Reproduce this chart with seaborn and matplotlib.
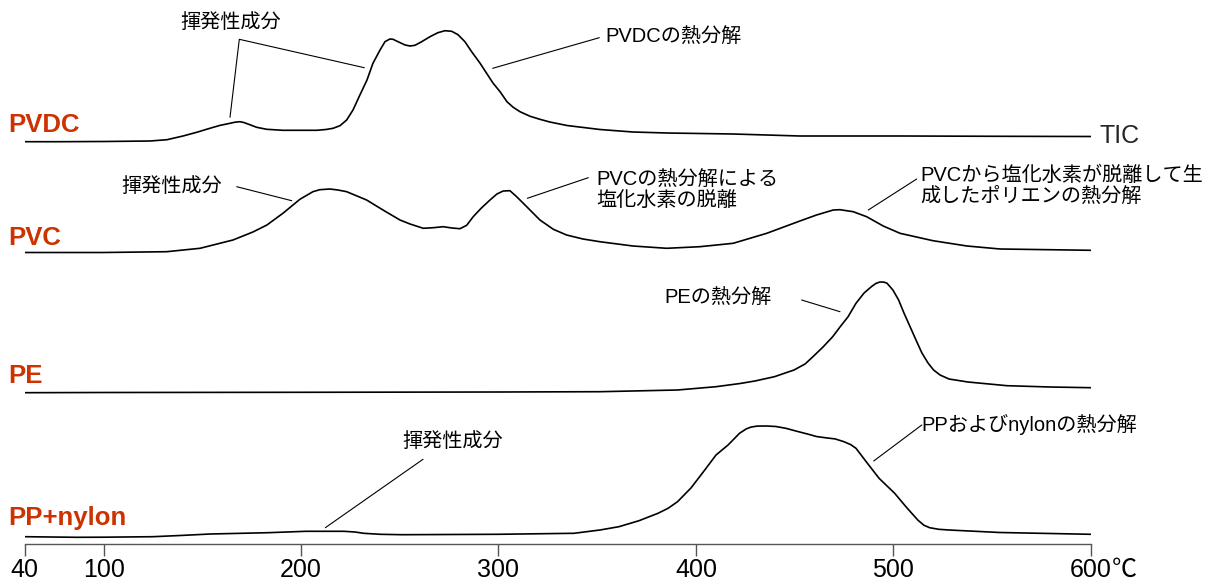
import numpy as np
import pandas as pd
import matplotlib
matplotlib.use("Agg")
import matplotlib.pyplot as plt
from matplotlib.lines import Line2D
import seaborn as sns

# ---------------- data (temperature in degC, relative TIC intensity) ----------------
series_names = ["PVDC", "PVC", "PE", "PP+nylon"]

pvdc_T = [40, 66.8, 100, 123.5, 132.1, 140.2, 147.3, 153.8, 158.9, 164, 166.5, 169, 171,
          173.1, 177.5, 182.6, 190.8, 199.4, 207.9, 212.6, 216.2, 219.7, 223.1, 226.3,
          229.8, 233.4, 236.4, 240, 242.5, 245, 246.6, 249.1, 252.7, 255.2, 257.7, 261.1,
          265.3, 269.3, 272.9, 276.3, 279.5, 283, 286.4, 290.7, 297.2, 300.8, 304.3, 307.4,
          310.9, 315.9, 321, 326, 334.7, 351.4, 368.1, 385.3, 418.8, 452.7, 503.4, 554, 600]
pvdc_I = [0, 0, 0.2, 0.7, 2.0, 5.7, 9.5, 13.4, 16.3, 18.4, 19.5, 20.0, 19.2,
          17.7, 14.4, 12.4, 11.4, 11.4, 11.4, 12.2, 13.4, 16.0, 21.7, 31.7,
          46.7, 61.7, 78.4, 91.7, 100.0, 102.7, 102.4, 100.0, 96.7, 95.7, 96.4, 100.0,
          105.0, 109.0, 111.0, 110.4, 107.0, 100.0, 90.0, 78.4, 58.7, 50.0, 40.0, 34.5,
          30.0, 25.5, 22.4, 19.7, 16.2, 12.2, 9.7, 8.7, 7.7, 5.7, 5.7, 5.4, 5.2]

pvc_T = [40, 100, 131.9, 148.8, 165.5, 175.6, 182.7, 190.8, 199.4, 206, 209.5, 214.6,
         218.7, 223.1, 233.2, 241.5, 250.1, 255.2, 261.9, 267, 272, 276.4, 280.5, 283.9,
         287.2, 291.1, 295.7, 299.2, 302.4, 305.8, 309.2, 314.3, 321, 327.8, 334.5, 342.8,
         351.3, 368.1, 385.2, 402, 418.9, 435.9, 452.7, 461.1, 469.6, 473, 479.7, 486.5,
         494.9, 503.4, 520.1, 537.3, 554.1, 600]
pvc_I = [0, 0, 0.8, 4.2, 12.5, 20.5, 27.5, 39.2, 53.2, 60.8, 62.8, 63.5,
         62.5, 60.8, 52.5, 42.5, 32.5, 28.5, 24.2, 24.8, 25.8, 24.5, 23.8, 27.2,
         35.8, 44.0, 52.5, 58.5, 61.5, 61.8, 55.8, 45.8, 32.5, 23.2, 17.5, 13.5,
         10.8, 6.5, 4.2, 5.8, 9.2, 19.2, 31.5, 37.5, 42.5, 42.8, 40.8, 35.8,
         26.5, 19.2, 11.8, 6.5, 3.5, 2.2]

pe_T = [40, 100, 199.4, 300.8, 351.4, 390.7, 410.2, 422.4, 429.9, 439.8, 449.7, 455.3,
        459.3, 464.4, 469.3, 473, 477.1, 481.1, 485.2, 489.2, 491.3, 493.3, 495.2, 496.8,
        499.8, 502.7, 505.4, 508.5, 511.5, 514.5, 517.6, 520.4, 523.7, 528.2, 537.8, 557.6,
        579.4, 600]
pe_I = [0, 0.2, 0.4, 0.7, 1.0, 2.7, 6.0, 9.2, 11.7, 16.0, 22.7, 28.7,
        36.0, 45.7, 56.0, 65.7, 76.0, 89.4, 99.7, 106.5, 109.4, 110.7, 110.6, 109.5,
        102.7, 92.7, 79.7, 66.0, 52.7, 39.7, 29.7, 22.7, 17.7, 13.7, 10.7, 7.0,
        5.7, 5.0]

pp_T = [40, 79.3, 100, 125, 138.7, 154.1, 183.2, 202.5, 221.7, 227.3, 231.7, 240, 251,
        299.5, 338.2, 351.4, 361, 371.2, 380.8, 386, 390.7, 397.5, 404.5, 410.2, 416.3,
        422.1, 425.5, 427.9, 431, 435.9, 440.5, 445.6, 451, 457.3, 461, 465.4, 470.5, 475,
        478.5, 481.1, 486.9, 492.8, 500.7, 506.4, 510, 512.5, 515.5, 518.4, 523, 528.2,
        554, 600]
pp_I = [0, -0.6, -0.5, 0, 1.2, 2.7, 4.0, 5.4, 5.4, 4.7, 3.4, 2.4, 2.0,
        2.4, 3.4, 6.7, 10.0, 16.0, 23.4, 28.5, 35.0, 48.7, 66.7, 81.7, 91.7,
        103.4, 107.8, 109.6, 110.6, 110.7, 110.2, 108.4, 105.5, 102.3, 100.2, 99.0, 97.8, 95.0,
        92.0, 88.4, 73.4, 58.4, 43.4, 30.0, 22.0, 16.5, 11.5, 9.0, 7.4, 6.7,
        4.2, 2.4]

tick_values = [40, 100, 200, 300, 400, 500, 600]
tick_labels = ["40", "100", "200", "300", "400", "500", "600"]

# ---------------- layout constants ----------------
W, H = 1208, 585
offsets = {"PVDC": 401.8, "PVC": 291.0, "PE": 150.8, "PP+nylon": 6.8}
label_color = "#CC3300"

sns.set_theme(style="white")
plt.rcParams["font.family"] = ["Liberation Sans", "Noto Sans CJK JP", "DejaVu Sans"]
plt.rcParams["lines.solid_joinstyle"] = "round"
plt.rcParams["lines.solid_capstyle"] = "round"

fig = plt.figure(figsize=(W / 100, H / 100), dpi=100)
ax = fig.add_axes([24.7 / W, 41.5 / H, (1090.7 - 24.7) / W, 543.5 / H])


def fwd(t):
    t = np.asarray(t, dtype=float)
    return np.where(t < 100, 100 - (100 - t) * 2.0 / 3.0, t)


def inv(p):
    p = np.asarray(p, dtype=float)
    return np.where(p < 100, 100 - (100 - p) * 1.5, p)


ax.set_xscale("function", functions=(fwd, inv))

traces = {
    "PVDC": (pvdc_T, pvdc_I),
    "PVC": (pvc_T, pvc_I),
    "PE": (pe_T, pe_I),
    "PP+nylon": (pp_T, pp_I),
}
for name in series_names:
    T, I = traces[name]
    df = pd.DataFrame({"T": T, "I": np.asarray(I) + offsets[name]})
    sns.lineplot(data=df, x="T", y="I", ax=ax, color="black", lw=1.2,
                 estimator=None, sort=False)

ax.set_xlim(40, 600)
ax.set_ylim(0, 543.5)
ax.set_xlabel("")
ax.set_ylabel("")
ax.set_yticks([])
for s in ["left", "top", "right"]:
    ax.spines[s].set_visible(False)
ax.spines["bottom"].set_color("#555555")
ax.spines["bottom"].set_linewidth(1.0)
ax.spines["bottom"].set_bounds(40, 600)
ax.set_xticks(tick_values)
ax.set_xticklabels(tick_labels)
ax.tick_params(axis="x", bottom=True, direction="out", length=8.5, width=1.0,
               color="#555555", pad=2.0, labelsize=18, labelcolor="black")
ax.xaxis.set_minor_locator(matplotlib.ticker.NullLocator())


def fx(x):
    return x / W


def fy(y):
    return 1 - y / H


# degree Celsius right after the 600 tick label, sharing its baseline
fig.canvas.draw()
lab600 = ax.get_xticklabels()[-1]
bb = lab600.get_window_extent()
deg = fig.text(0, 0, "℃", fontsize=18, family=["Noto Sans CJK JP"],
               ha="left", va="baseline", color="black")
fig.canvas.draw()
digit_baseline_px = bb.y0 + 0.212 * 18 * 100 / 72  # descent of Liberation Sans
deg.set_position((bb.x1 / W + 0.5 / W, digit_baseline_px / H))

# series labels
label_baselines = {"PVDC": 131.7, "PVC": 245, "PE": 382.7, "PP+nylon": 525}
for name in series_names:
    fig.text(fx(8.3), fy(label_baselines[name]), name, fontsize=18.5,
             fontweight="bold", color=label_color, va="baseline", ha="left",
             family=["Liberation Sans"])

# TIC
fig.text(fx(1099), fy(136), "TIC", fontsize=18, va="center", ha="left",
         family=["Liberation Sans"])

# annotations
ann_font = dict(fontsize=14.5, family=["Liberation Sans", "Noto Sans CJK JP"],
                color="black", ha="left", va="center")
annotations = [
    (180, 23, "揮発性成分"),
    (605, 36.7, "PVDCの熱分解"),
    (121.7, 186, "揮発性成分"),
    (596.7, 190, "PVCの熱分解による\n塩化水素の脱離"),
    (920, 186, "PVCから塩化水素が脱離して生\n成したポリエンの熱分解"),
    (664, 297, "PEの熱分解"),
    (402, 441.7, "揮発性成分"),
    (921.8, 424, "PPおよびnylonの熱分解"),
]
for x, y, s in annotations:
    fig.text(fx(x), fy(y), s, linespacing=1.12, **ann_font)

leaders = [
    [(230, 117.3), (239.3, 39.3), (364.3, 67.7)],
    [(492.7, 68.3), (599.3, 37.7)],
    [(236.7, 186.7), (291.7, 200.7)],
    [(527.3, 198.3), (588.3, 177.7)],
    [(868.3, 210), (916.7, 179)],
    [(801.6, 300), (840, 311.7)],
    [(325.3, 527.7), (423, 459.3)],
    [(873.7, 461), (921.8, 425)],
]
for pts in leaders:
    xs = [fx(p[0]) for p in pts]
    ys = [fy(p[1]) for p in pts]
    fig.add_artist(Line2D(xs, ys, transform=fig.transFigure, color="black", lw=0.8))

fig.savefig("out.png", dpi=100)
